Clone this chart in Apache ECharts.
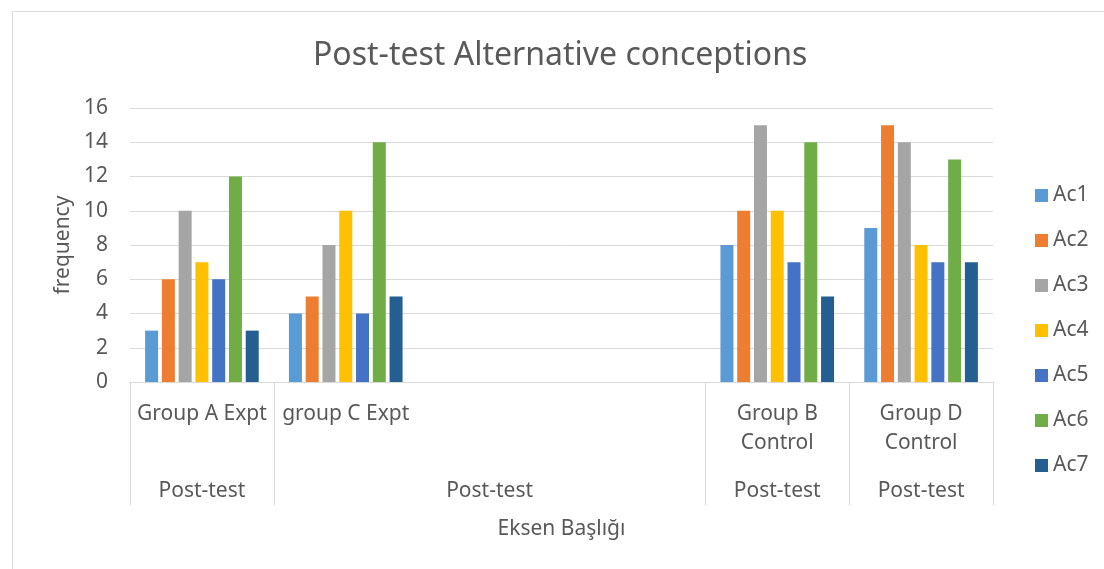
<!DOCTYPE html>
<html>
<head>
<meta charset="utf-8">
<script src="https://cdn.jsdelivr.net/npm/echarts@6/dist/echarts.min.js"></script>
<style>
html,body{margin:0;padding:0;background:#fff;}
#chart{width:1104px;height:569px;}
</style>
</head>
<body>
<div id="chart"></div>
<script>
const categories = ['Group A Expt', 'group C Expt', '', '', 'Group B\nControl', 'Group D\nControl'];
const level2Labels = ['Post-test', '', 'Post-test', '', 'Post-test', 'Post-test'];
const seriesNames = ['Ac1', 'Ac2', 'Ac3', 'Ac4', 'Ac5', 'Ac6', 'Ac7'];
const ac1 = [3, 4, null, null, 8, 9];
const ac2 = [6, 5, null, null, 10, 15];
const ac3 = [10, 8, null, null, 15, 14];
const ac4 = [7, 10, null, null, 10, 8];
const ac5 = [6, 4, null, null, 7, 7];
const ac6 = [12, 14, null, null, 14, 13];
const ac7 = [3, 5, null, null, 5, 7];
const yTicks = [0, 2, 4, 6, 8, 10, 12, 14, 16];
const groupBoundaryIdx = [0, 1, 4, 5];

const colors = ['#5B9BD5', '#ED7D31', '#A5A5A5', '#FFC000', '#4472C4', '#70AD47', '#255E91'];
const seriesData = [ac1, ac2, ac3, ac4, ac5, ac6, ac7];
const FONT = 'Noto Sans';
const TXT = '#595959';
const LINE = '#D9D9D9';

const chart = echarts.init(document.getElementById('chart'));
chart.setOption({
  animation: false,
  color: colors,
  textStyle: {fontFamily: FONT, color: TXT},
  graphic: [{
    type: 'rect', left: 10, top: 9, silent: true,
    shape: {width: 1200, height: 700},
    style: {fill: 'none', stroke: LINE, lineWidth: 1}
  }],
  title: {
    text: 'Post-test Alternative conceptions',
    left: 313, top: 40,
    padding: 0,
    textStyle: {fontFamily: FONT, fontSize: 32, fontWeight: 'normal', color: TXT}
  },
  legend: {
    orient: 'vertical', left: 1030, top: 180,
    itemWidth: 13, itemHeight: 13, itemGap: 24,
    icon: 'rect',
    data: seriesNames,
    textStyle: {fontFamily: FONT, fontSize: 21, color: TXT, lineHeight: 20}
  },
  grid: {left: 130, right: 111, top: 108, bottom: 187, containLabel: false},
  xAxis: [{
    type: 'category',
    data: categories,
    axisLine: {show: true, lineStyle: {color: LINE, width: 1}},
    axisTick: {
      show: true, length: 123,
      interval: function (i) { return groupBoundaryIdx.indexOf(i) >= 0; },
      lineStyle: {color: LINE, width: 1}
    },
    axisLabel: {interval: 0, margin: 18, fontFamily: FONT, fontSize: 21, color: TXT, lineHeight: 29},
    name: 'Eksen Başlığı',
    nameLocation: 'middle',
    nameGap: 135,
    nameTextStyle: {fontFamily: FONT, fontSize: 21, color: TXT, lineHeight: 24}
  }, {
    type: 'category',
    position: 'bottom',
    data: level2Labels,
    axisLine: {show: false},
    axisTick: {show: false},
    axisLabel: {interval: 0, margin: 99, fontFamily: FONT, fontSize: 21, color: TXT, lineHeight: 20}
  }],
  yAxis: {
    type: 'value',
    min: yTicks[0], max: yTicks[yTicks.length - 1], interval: 2,
    axisLine: {show: false},
    axisTick: {show: false},
    splitLine: {lineStyle: {color: LINE, width: 1}},
    axisLabel: {margin: 22, fontFamily: FONT, fontSize: 21, color: TXT},
    name: 'frequency',
    nameLocation: 'middle',
    nameGap: 56,
    nameRotate: 90,
    nameTextStyle: {fontFamily: FONT, fontSize: 21, color: TXT}
  },
  series: seriesNames.map(function (n, k) {
    return {
      name: n, type: 'bar', data: seriesData[k],
      barWidth: 13, barGap: '29%',
      itemStyle: {color: colors[k]}
    };
  })
});
</script>
</body>
</html>
